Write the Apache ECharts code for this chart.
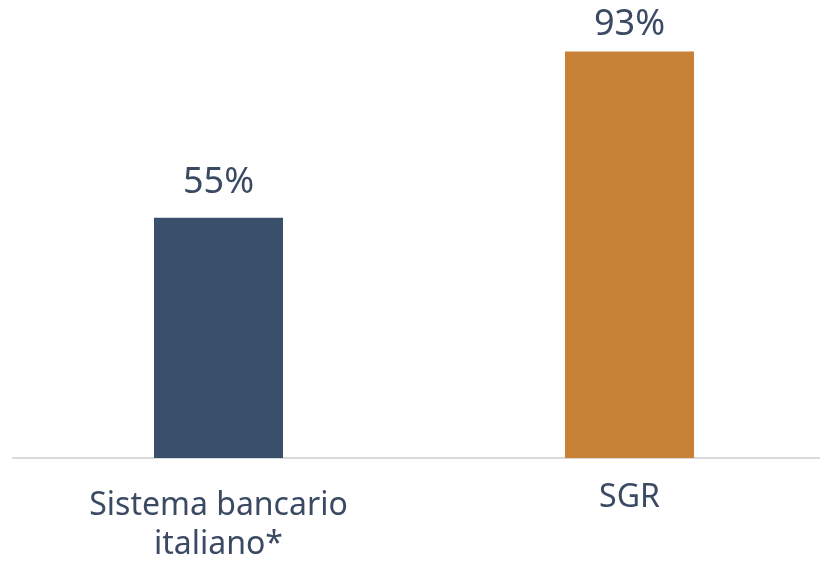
<!DOCTYPE html>
<html><head><meta charset="utf-8">
<script src="https://cdn.jsdelivr.net/npm/echarts@6/dist/echarts.min.js"></script>
<style>html,body{margin:0;padding:0;background:#fff}#c{width:820px;height:563px}</style>
</head><body><div id="c"></div>
<script>
const categories = ['Sistema bancario\nitaliano*', 'SGR'];
const values = [55, 93];
const barColors = ['#3A4F6B', '#C78238'];
const labelDistances = [17, 9];
const chart = echarts.init(document.getElementById('c'));
chart.setOption({
  animation: false,
  grid: {left: 13, width: 822, top: 21, height: 437, containLabel: false, outerBoundsMode: 'none'},
  xAxis: {
    type: 'category',
    data: categories.map((c, i) => i === 1 ? {value: c, textStyle: {lineHeight: 23}} : c),
    axisLine: {lineStyle: {color: '#D9D9D9', width: 2}},
    axisTick: {show: false},
    axisLabel: {color: '#3B4A63', fontSize: 32, fontFamily: 'Noto Sans', lineHeight: 39, margin: 28, interval: 0}
  },
  yAxis: {type: 'value', min: 0, max: 100, show: false, splitLine: {show: false}},
  series: [{
    type: 'bar', barWidth: '31.4%',
    data: values.map((v, i) => ({value: v, itemStyle: {color: barColors[i]}, label: {distance: labelDistances[i]}})),
    label: {show: true, position: 'top', formatter: '{c}%', color: '#3B4A63', fontSize: 36, fontFamily: 'Noto Sans'}
  }]
});
</script></body></html>
